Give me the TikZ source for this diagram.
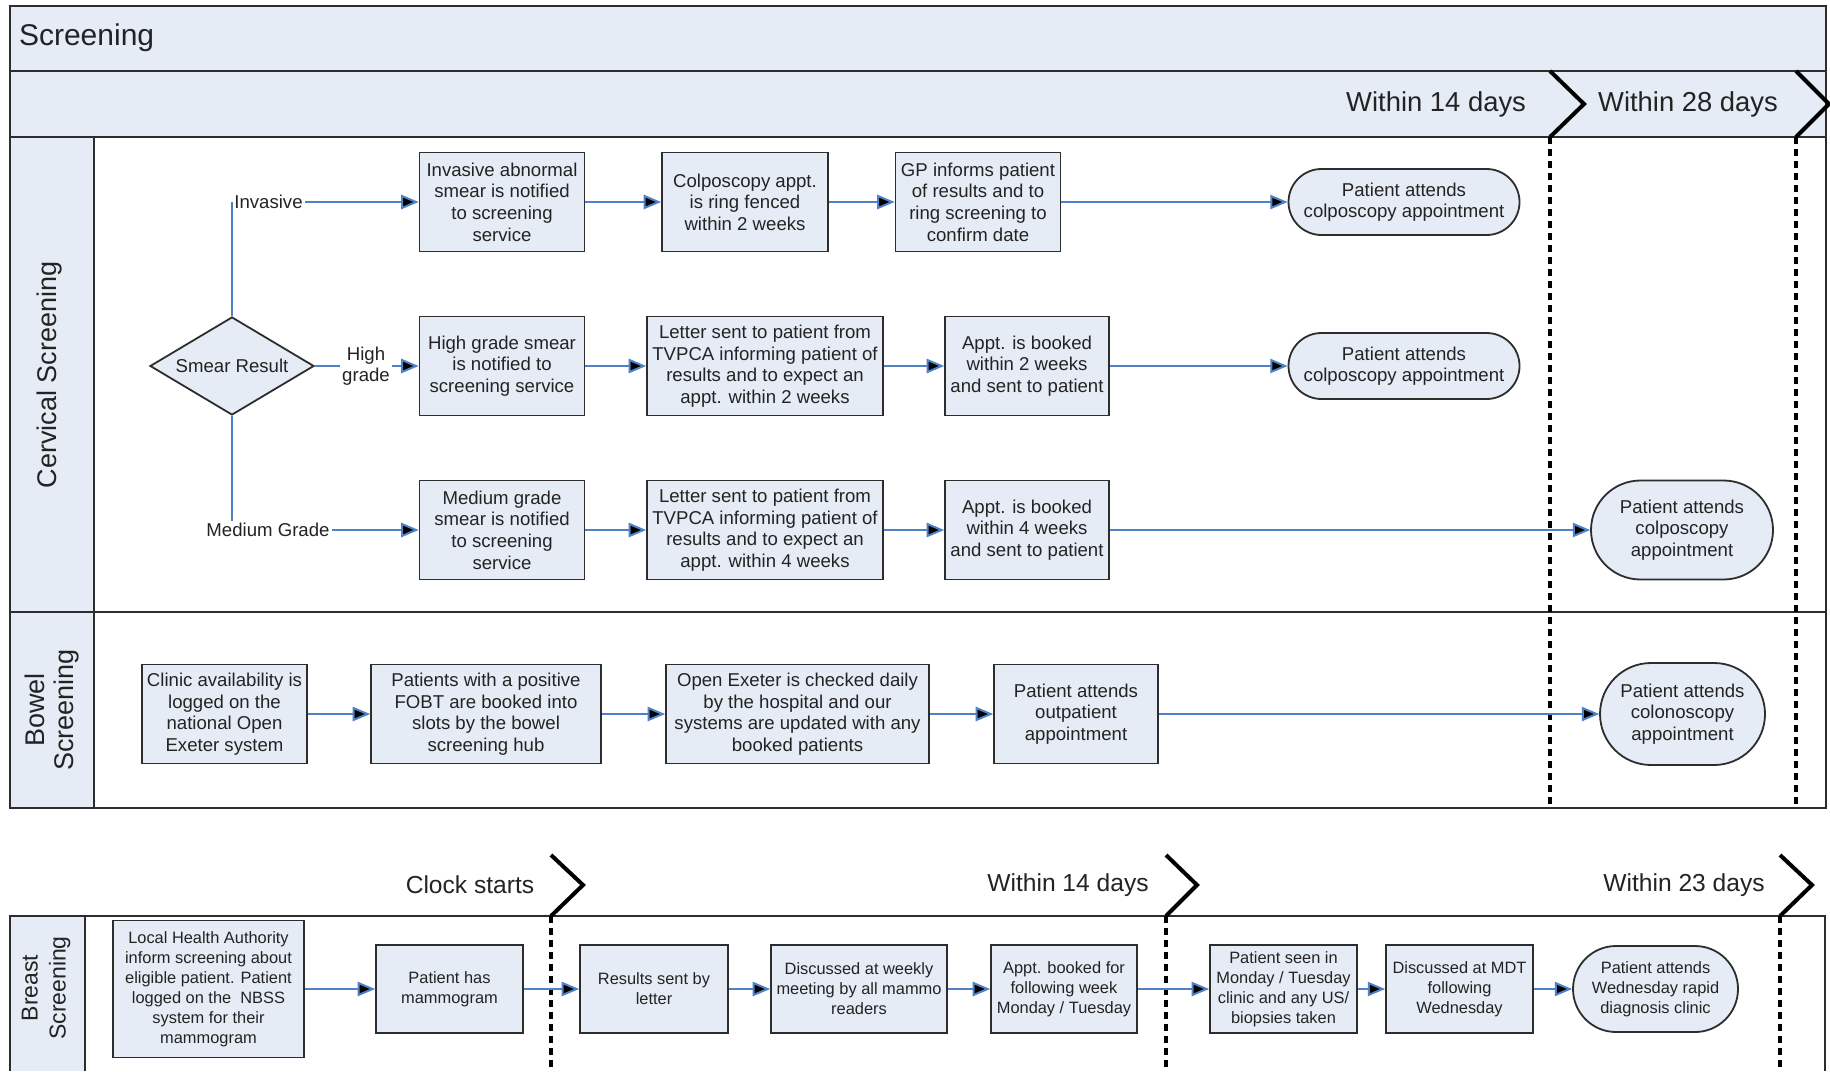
\documentclass[tikz,border=0pt]{standalone}
\usepackage{fontspec}
\setmainfont{Liberation Sans}
\usetikzlibrary{shapes,arrows,positioning}

\definecolor{lanefill}{RGB}{229,236,246}
\definecolor{flowblue}{RGB}{79,129,199}
\definecolor{edgegrey}{RGB}{45,45,45}
\definecolor{inkgrey}{RGB}{35,35,35}

\newcommand{\cellfont}{\fontsize{9.3}{10.8}\selectfont}
\newcommand{\smallcell}{\fontsize{8.2}{10}\selectfont}
\newcommand{\lanefont}{\fontsize{13.5}{14.5}\selectfont}
\newcommand{\clockfont}{\fontsize{12.3}{14}\selectfont}

\tikzset{
	stepbox/.style={rectangle, draw=edgegrey, line width=0.9pt, fill=lanefill, align=center, inner sep=0pt, text=inkgrey, font=\cellfont, minimum width=82.5pt, minimum height=49.5pt},
	smallbox/.style={stepbox, font=\smallcell, minimum width=73.5pt, minimum height=44pt},
	endbox/.style={stepbox, rounded rectangle},
	decision/.style={diamond, aspect=1.7, draw=edgegrey, line width=0.9pt, fill=lanefill, inner sep=0pt, text=inkgrey, font=\cellfont, minimum width=82pt, minimum height=49pt},
	branch/.style={inner sep=1pt, align=center, text=inkgrey, font=\cellfont},
	flow/.style={draw=flowblue, line width=1pt, -triangle 45},
	feed/.style={draw=flowblue, line width=1pt},
	band/.style={draw=edgegrey, line width=1pt, fill=lanefill},
	chevron/.style={line width=2pt, line join=miter},
	deadline/.style={line width=1.8pt, dash pattern=on 3.5pt off 2.5pt},
}

\begin{document}
\begin{tikzpicture}[x=0.5pt, y=-0.5pt]
	\useasboundingbox (0,0) rectangle (1830,1071);
	
	\draw[edgegrey, line width=1pt, fill=white] (10,6) rectangle (1826,808);
	\draw[band] (10,6) rectangle (1826,71);
	\draw[band] (10,71) rectangle (1826,137);
	\draw[band] (10,137) rectangle (94,612);
	\draw[band] (10,612) rectangle (94,808);
	\draw[edgegrey, line width=1pt] (94,612) -- (1826,612);
	\fill[lanefill] (10,916) rectangle (85,1071);
	\draw[edgegrey, line width=1pt] (10,1071) |- (1825,916) -- (1825,1071);
	\draw[edgegrey, line width=1pt] (85,916) -- (85,1071);
	
	\node[rotate=90, text=inkgrey, font=\lanefont] (30) at (50,375) {Cervical Screening};
	\node[rotate=90, text=inkgrey, font=\lanefont, align=center] (31) at (52,710) {Bowel\\Screening};
	\node[rotate=90, text=inkgrey, font=\fontsize{11.5}{14}\selectfont, align=center] (32) at (46,988) {Breast\\Screening};
	
	\node[anchor=west, text=inkgrey, font=\fontsize{15}{18}\selectfont] (33) at (12,38) {Screening};
	\node[anchor=east, text=inkgrey, font=\fontsize{13.7}{16}\selectfont] (34) at (1533,104) {Within 14 days};
	\node[text=inkgrey, font=\fontsize{13.7}{16}\selectfont] (35) at (1688,104) {Within 28 days};
	\node[text=inkgrey, font=\clockfont] (36) at (470,885) {Clock starts};
	\node[text=inkgrey, font=\clockfont] (37) at (1068,885) {Within 14 days};
	\node[text=inkgrey, font=\clockfont] (38) at (1684,885) {Within 23 days};
	
	\draw[chevron] (1550,71) -- (1584,104) -- (1550,137) coordinate (t1);
	\draw[chevron] (1796,71) -- (1829,104) -- (1796,137) coordinate (t2);
	\draw[chevron] (551,855) -- (583,885) -- (551,916) coordinate (b1);
	\draw[chevron] (1166,855) -- (1197,885) -- (1166,916) coordinate (b2);
	\draw[chevron] (1780,855) -- (1812,885) -- (1780,916) coordinate (b3);
	\draw[deadline] (t1) -- (1550,808);
	\draw[deadline] (t2) -- (1796,808);
	\draw[deadline] (b1) -- (551,1071);
	\draw[deadline] (b2) -- (1166,1071);
	\draw[deadline] (b3) -- (1780,1071);
	
	\node[stepbox] (1) at (502,202) {Invasive abnormal\\smear is notified\\to screening\\service};
	\node[stepbox, minimum width=83pt] (2) at (745,202) {Colposcopy appt.\\is ring fenced\\within 2 weeks};
	\node[stepbox] (3) at (978,202) {GP informs patient\\of results and to\\ring screening to\\confirm date};
	\node[endbox, minimum width=115.5pt, minimum height=33pt] (4) at (1404,202) {Patient attends\\colposcopy appointment};
	
	\node[decision] (5) at (232,366) {Smear Result};
	\node[stepbox] (6) at (502,366) {High grade smear\\is notified to\\screening service};
	\node[stepbox, minimum width=118pt] (7) at (765,366) {Letter sent to patient from\\TVPCA informing patient of\\results and to expect an\\appt. within 2 weeks};
	\node[stepbox, minimum width=82pt] (8) at (1027,366) {Appt. is booked\\within 2 weeks\\and sent to patient};
	\node[endbox, minimum width=115.5pt, minimum height=33pt] (9) at (1404,366) {Patient attends\\colposcopy appointment};
	
	\node[stepbox] (10) at (502,530) {Medium grade\\smear is notified\\to screening\\service};
	\node[stepbox, minimum width=118pt] (11) at (765,530) {Letter sent to patient from\\TVPCA informing patient of\\results and to expect an\\appt. within 4 weeks};
	\node[stepbox, minimum width=82pt] (12) at (1027,530) {Appt. is booked\\within 4 weeks\\and sent to patient};
	\node[endbox, minimum width=91pt] (13) at (1682,530) {Patient attends\\colposcopy\\appointment};
	
	\node[branch, anchor=west] (14) at (232,202) {Invasive};
	\node[branch] (15) at (366,366) {High\\grade};
	\node[branch] (16) at (268,530) {Medium Grade};
	
	\node[stepbox] (17) at (224.5,714) {Clinic availability is\\logged on the\\national Open\\Exeter system};
	\node[stepbox, minimum width=115pt] (18) at (486,714) {Patients with a positive\\FOBT are booked into\\slots by the bowel\\screening hub};
	\node[stepbox, minimum width=131.5pt] (19) at (797.5,714) {Open Exeter is checked daily\\by the hospital and our\\systems are updated with any\\booked patients};
	\node[stepbox, minimum width=82pt] (20) at (1076,714) {Patient attends\\outpatient\\appointment};
	\node[endbox, minimum height=51pt] (21) at (1682.5,714) {Patient attends\\colonoscopy\\appointment};
	
	\node[smallbox, minimum width=95.5pt, minimum height=68.5pt] (22) at (208.5,989) {Local Health Authority\\inform screening about\\eligible patient. Patient\\logged on the~ NBSS\\system for their\\mammogram};
	\node[smallbox] (23) at (449.5,989) {Patient has\\mammogram};
	\node[smallbox, minimum width=74pt] (24) at (654,989) {Results sent by\\letter};
	\node[smallbox, minimum width=88pt] (25) at (859,989) {Discussed at weekly\\meeting by all mammo\\readers};
	\node[smallbox, minimum width=73pt] (26) at (1064,989) {Appt. booked for\\following week\\Monday / Tuesday};
	\node[smallbox] (27) at (1283.5,989) {Patient seen in\\Monday / Tuesday\\clinic and any US/\\biopsies taken};
	\node[smallbox] (28) at (1459.5,989) {Discussed at MDT\\following\\Wednesday};
	\node[smallbox, rounded rectangle, minimum width=82.5pt, minimum height=43pt] (29) at (1655.5,989) {Patient attends\\Wednesday rapid\\diagnosis clinic};
	
	\draw[feed] (5.north) -- (14.west);
	\draw[feed] (5.east) -- (15.west);
	\draw[feed] (5.south) -- (5.south |- 16.north);
	
	\path[flow]
	(14) edge (1)
	(1) edge (2)
	(2) edge (3)
	(3) edge (4)
	(15) edge (6)
	(6) edge (7)
	(7) edge (8)
	(8) edge (9)
	(16) edge (10)
	(10) edge (11)
	(11) edge (12)
	(12) edge (13)
	(17) edge (18)
	(18) edge (19)
	(19) edge (20)
	(20) edge (21)
	(22) edge (23)
	(23) edge (24)
	(24) edge (25)
	(25) edge (26)
	(26) edge (27)
	(27) edge (28)
	(28) edge (29);
\end{tikzpicture}
\end{document}
